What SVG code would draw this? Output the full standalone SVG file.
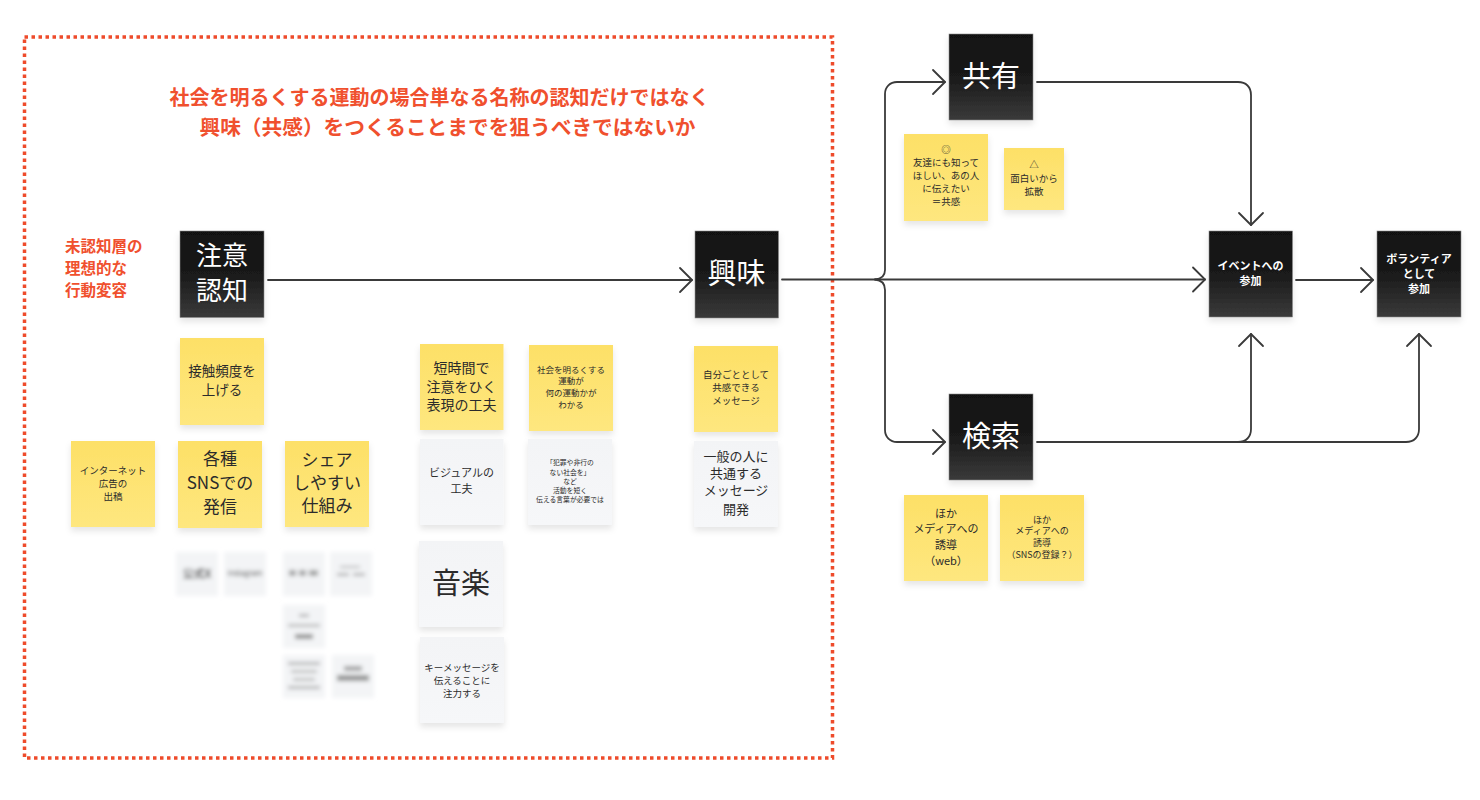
<svg xmlns="http://www.w3.org/2000/svg" width="1480" height="800" viewBox="0 0 1480 800">
<style>
text{font-family:"Noto Sans CJK JP","Liberation Sans",sans-serif;text-anchor:middle}
.b{fill:url(#dk);stroke:#8a8a8a;stroke-width:.6;filter:url(#sh)}
.y{fill:url(#yl);filter:url(#sh)}
.g{fill:url(#gr);filter:url(#sh)}
.w{fill:#fff}
.t{fill:#2b2b2b}
.r{fill:#f0502e;font-weight:700}
.c{fill:none;stroke:#3a3a3a;stroke-width:1.8;stroke-linecap:round;stroke-linejoin:round}
.bl{filter:url(#blur)}
.bb{fill:#f3f4f6}
.bt{fill:#555}
</style>
<defs>
<linearGradient id="dk" x1="0" y1="0" x2="0" y2="1"><stop offset="0" stop-color="#111"/><stop offset=".5" stop-color="#1a1a1a"/><stop offset="1" stop-color="#3a3a3a"/></linearGradient>
<linearGradient id="yl" x1="0" y1="0" x2="0" y2="1"><stop offset="0" stop-color="#fde067"/><stop offset="1" stop-color="#fee77f"/></linearGradient>
<linearGradient id="gr" x1="0" y1="0" x2="0" y2="1"><stop offset="0" stop-color="#f3f4f6"/><stop offset="1" stop-color="#f6f7f9"/></linearGradient>
<filter id="sh" x="-20%" y="-20%" width="140%" height="140%"><feDropShadow dx="0" dy="4" stdDeviation="3" flood-color="#000" flood-opacity=".1"/></filter>
<filter id="blur" x="-20%" y="-20%" width="140%" height="140%"><feGaussianBlur stdDeviation="2"/></filter>
<marker id="a" markerUnits="userSpaceOnUse" markerWidth="28" markerHeight="28" refX="21" refY="14" orient="auto"><path d="M9 2 L21 14 L9 26" fill="none" stroke="#3a3a3a" stroke-width="1.8" stroke-linecap="round" stroke-linejoin="round"/></marker>
</defs>
<rect width="1480" height="800" fill="#fff"/>
<rect id="frame" x="24.500" y="37" width="808" height="721" fill="none" stroke="#ee4b2b" stroke-width="3.500" stroke-dasharray="3.500 3.500"/>
<g id="connectors">
<path class="c" marker-end="url(#a)" d="M268 280H692"/>
<path class="c" marker-end="url(#a)" d="M782 279.500H1205"/>
<path class="c" marker-end="url(#a)" d="M875 279.500C881 279 885 276 885 270V94C885 87 890 82 897 82H945"/>
<path class="c" marker-end="url(#a)" d="M875 279.500C881 280 885 283 885 290V430C885 437 890 442 897 442H945"/>
<path class="c" marker-end="url(#a)" d="M1037 82H1238C1246 82 1251 87 1251 95V225"/>
<path class="c" marker-end="url(#a)" d="M1296 280H1373"/>
<path class="c" marker-end="url(#a)" d="M1037 442H1238C1246 442 1251 437 1251 429V334"/>
<path class="c" marker-end="url(#a)" d="M1238 442H1406C1414 442 1419 437 1419 429V334"/>
</g>
<g id="title">
<text class="r" x="439.500" y="105" font-size="20">社会を明るくする運動の場合単なる名称の認知だけではなく</text>
<text class="r" x="447.500" y="135" font-size="20.700">興味（共感）をつくることまでを狙うべきではないか</text>
</g>
<g id="side-label">
<text class="r" x="65" y="252" font-size="15.500" style="text-anchor:start">未認知層の</text>
<text class="r" x="65" y="274" font-size="15.500" style="text-anchor:start">理想的な</text>
<text class="r" x="65" y="296" font-size="15.500" style="text-anchor:start">行動変容</text>
</g>
<g id="n-chui"><rect class="b" x="180" y="231" width="84" height="86.500"/><text class="w" x="222" y="265" font-size="26">注意</text><text class="w" x="222" y="300" font-size="26">認知</text></g>
<g id="n-kyomi"><rect class="b" x="695" y="231" width="83.500" height="87"/><text class="w" x="736.500" y="284" font-size="29">興味</text></g>
<g id="n-kyoyu"><rect class="b" x="949" y="34" width="84" height="86"/><text class="w" x="991" y="87" font-size="29">共有</text></g>
<g id="n-kensaku"><rect class="b" x="949" y="394" width="84" height="86"/><text class="w" x="991" y="447" font-size="29">検索</text></g>
<g id="n-event"><rect class="b" x="1209" y="231" width="83.500" height="86"/><text class="w" x="1250.500" y="270" font-size="11" font-weight="700">イベントへの</text><text class="w" x="1250.500" y="285" font-size="11" font-weight="700">参加</text></g>
<g id="n-volunteer"><rect class="b" x="1377" y="231" width="84" height="86"/><text class="w" x="1419" y="263" font-size="11" font-weight="700">ボランティア</text><text class="w" x="1419" y="278" font-size="11" font-weight="700">として</text><text class="w" x="1419" y="293" font-size="11" font-weight="700">参加</text></g>
<g id="s-sesshoku"><rect class="y" x="180" y="338" width="84" height="87"/><text class="t" x="222" y="376" font-size="13.500">接触頻度を</text><text class="t" x="222" y="395" font-size="13.500">上げる</text></g>
<g id="s-internet"><rect class="y" x="71" y="441" width="84" height="86"/><text class="t" x="113" y="474" font-size="9.500">インターネット</text><text class="t" x="113" y="487" font-size="9.500">広告の</text><text class="t" x="113" y="500" font-size="9.500">出稿</text></g>
<g id="s-sns"><rect class="y" x="178" y="441" width="84" height="87"/><text class="t" x="220" y="465" font-size="17">各種</text><text class="t" x="220" y="489" font-size="17">SNSでの</text><text class="t" x="220" y="513" font-size="17">発信</text></g>
<g id="s-share"><rect class="y" x="285" y="441" width="84" height="86"/><text class="t" x="327" y="466" font-size="17">シェア</text><text class="t" x="327" y="489" font-size="17">しやすい</text><text class="t" x="327" y="512" font-size="17">仕組み</text></g>
<g id="s-tanjikan"><rect class="y" x="420" y="344" width="83.500" height="86"/><text class="t" x="461.500" y="373" font-size="14">短時間で</text><text class="t" x="461.500" y="392" font-size="14">注意をひく</text><text class="t" x="461.500" y="410" font-size="14">表現の工夫</text></g>
<g id="s-shakai"><rect class="y" x="529" y="345" width="84" height="86"/><text class="t" x="571" y="373" font-size="8.500">社会を明るくする</text><text class="t" x="571" y="384" font-size="8.500">運動が</text><text class="t" x="571" y="396" font-size="8.500">何の運動かが</text><text class="t" x="571" y="408" font-size="8.500">わかる</text></g>
<g id="s-jibun"><rect class="y" x="694" y="346" width="84" height="86"/><text class="t" x="736" y="378" font-size="9.500">自分ごととして</text><text class="t" x="736" y="391" font-size="9.500">共感できる</text><text class="t" x="736" y="404" font-size="9.500">メッセージ</text></g>
<g id="s-ippan"><rect class="g" x="694" y="441" width="84" height="86"/><text class="t" x="736" y="461" font-size="13">一般の人に</text><text class="t" x="736" y="478" font-size="13">共通する</text><text class="t" x="736" y="495" font-size="13">メッセージ</text><text class="t" x="736" y="514" font-size="13">開発</text></g>
<g id="s-visual"><rect class="g" x="420" y="439" width="83.500" height="86"/><text class="t" x="461.500" y="477" font-size="11">ビジュアルの</text><text class="t" x="461.500" y="493" font-size="11">工夫</text></g>
<g id="s-hanzai"><rect class="g" x="528" y="439" width="84" height="86"/><text class="t" x="570" y="465" font-size="6.800">「犯罪や非行の</text><text class="t" x="570" y="475" font-size="6.800">ない社会を」</text><text class="t" x="570" y="484" font-size="6.800">など</text><text class="t" x="570" y="493" font-size="6.800">活動を短く</text><text class="t" x="570" y="502" font-size="6.800">伝える言葉が必要では</text></g>
<g id="s-ongaku"><rect class="g" x="419" y="541" width="84" height="86"/><text class="t" x="461" y="594" font-size="29">音楽</text></g>
<g id="s-key"><rect class="g" x="420" y="637" width="84" height="86"/><text class="t" x="462" y="671" font-size="9.500">キーメッセージを</text><text class="t" x="462" y="684" font-size="9.500">伝えることに</text><text class="t" x="462" y="697" font-size="9.500">注力する</text></g>
<g id="s-maru"><rect class="y" x="904" y="134" width="84" height="87"/><text class="t" x="946" y="153" font-size="9.500">◎</text><text class="t" x="946" y="166" font-size="9.500">友達にも知って</text><text class="t" x="946" y="179" font-size="9.500">ほしい、あの人</text><text class="t" x="946" y="192" font-size="9.500">に伝えたい</text><text class="t" x="946" y="205" font-size="9.500">＝共感</text></g>
<g id="s-sankaku"><rect class="y" x="1004" y="148" width="60" height="62"/><text class="t" x="1034" y="168" font-size="9.500">△</text><text class="t" x="1034" y="182" font-size="9.500">面白いから</text><text class="t" x="1034" y="195" font-size="9.500">拡散</text></g>
<g id="s-web"><rect class="y" x="904" y="495" width="84" height="86"/><text class="t" x="946" y="518" font-size="11">ほか</text><text class="t" x="946" y="533" font-size="11">メディアへの</text><text class="t" x="946" y="549" font-size="11">誘導</text><text class="t" x="946" y="565" font-size="11">（web）</text></g>
<g id="s-snsreg"><rect class="y" x="1000" y="495" width="84" height="86"/><text class="t" x="1042" y="523" font-size="9">ほか</text><text class="t" x="1042" y="534" font-size="9">メディアへの</text><text class="t" x="1042" y="546" font-size="9">誘導</text><text class="t" x="1042" y="558" font-size="9">（SNSの登録？）</text></g>
<g id="blurred" class="bl">
<g id="bl1"><rect class="bb" x="176" y="552" width="42" height="44"/><text x="197" y="578" font-size="11" font-weight="700" fill="#333">公式X</text></g>
<g id="bl2"><rect class="bb" x="224" y="552" width="42" height="44"/><text x="245" y="576" font-size="7.500" fill="#333">Instagram</text></g>
<g id="bl3"><rect class="bb" x="283" y="552" width="42" height="44"/><rect class="bt" x="289" y="570" width="7" height="6" opacity=".5"/><rect class="bt" x="299" y="570" width="7" height="6" opacity=".5"/><rect class="bt" x="309" y="570" width="9" height="6" opacity=".5"/></g>
<g id="bl4"><rect class="bb" x="330" y="552" width="42" height="44"/><rect class="bt" x="340" y="566" width="20" height="2" opacity=".4"/><rect class="bt" x="337" y="573" width="12" height="3" opacity=".4"/><rect class="bt" x="353" y="573" width="12" height="3" opacity=".4"/></g>
<g id="bl5"><rect class="bb" x="283" y="605" width="42" height="43"/><rect class="bt" x="299" y="614" width="10" height="3" opacity=".4"/><rect class="bt" x="288" y="624" width="32" height="3" opacity=".35"/><rect class="bt" x="295" y="634" width="18" height="5" opacity=".6"/></g>
<g id="bl6"><rect class="bb" x="283" y="655" width="42" height="43"/><rect class="bt" x="288" y="662" width="32" height="3" opacity=".4"/><rect class="bt" x="291" y="670" width="26" height="3" opacity=".35"/><rect class="bt" x="293" y="678" width="22" height="3" opacity=".35"/><rect class="bt" x="288" y="686" width="32" height="3" opacity=".4"/></g>
<g id="bl7"><rect class="bb" x="332" y="655" width="42" height="43"/><rect class="bt" x="344" y="666" width="18" height="5" opacity=".5"/><rect class="bt" x="337" y="675" width="32" height="6" opacity=".6"/></g>
</g>
</svg>
